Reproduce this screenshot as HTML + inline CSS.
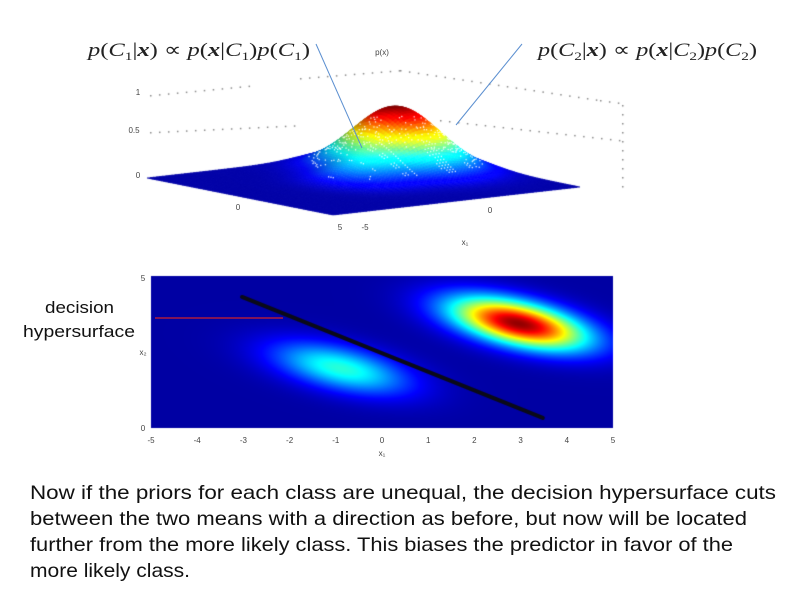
<!DOCTYPE html>
<html><head><meta charset="utf-8"><style>
html,body{margin:0;padding:0;background:#fff;width:792px;height:591px;overflow:hidden}
#wrap{position:relative;width:792px;height:591px}
canvas,svg{position:absolute;left:0;top:0}
</style></head><body>
<div id="wrap">
<canvas id="surf" width="792" height="591"></canvas>
<canvas id="heat" width="792" height="591"></canvas>
<svg id="ov" width="792" height="591">
<g font-family="Liberation Serif, serif" font-size="19" fill="#222">
<text x="88" y="56" textLength="222" lengthAdjust="spacingAndGlyphs"><tspan font-style="italic">p</tspan>(<tspan font-style="italic">C</tspan><tspan font-size="12" dy="4">1</tspan><tspan dy="-4">|</tspan><tspan font-weight="bold" font-style="italic">x</tspan>) ∝ <tspan font-style="italic">p</tspan>(<tspan font-weight="bold" font-style="italic">x</tspan>|<tspan font-style="italic">C</tspan><tspan font-size="12" dy="4">1</tspan><tspan dy="-4">)</tspan><tspan font-style="italic">p</tspan>(<tspan font-style="italic">C</tspan><tspan font-size="12" dy="4">1</tspan><tspan dy="-4">)</tspan></text>
<text x="538" y="56" textLength="219" lengthAdjust="spacingAndGlyphs"><tspan font-style="italic">p</tspan>(<tspan font-style="italic">C</tspan><tspan font-size="12" dy="4">2</tspan><tspan dy="-4">|</tspan><tspan font-weight="bold" font-style="italic">x</tspan>) ∝ <tspan font-style="italic">p</tspan>(<tspan font-weight="bold" font-style="italic">x</tspan>|<tspan font-style="italic">C</tspan><tspan font-size="12" dy="4">2</tspan><tspan dy="-4">)</tspan><tspan font-style="italic">p</tspan>(<tspan font-style="italic">C</tspan><tspan font-size="12" dy="4">2</tspan><tspan dy="-4">)</tspan></text>
</g>
<line x1="316" y1="44" x2="362" y2="148" stroke="#5b8fd0" stroke-width="1"/>
<line x1="522" y1="44" x2="456" y2="125" stroke="#5b8fd0" stroke-width="1"/>
<line x1="155" y1="318" x2="283" y2="318" stroke="#d0202a" stroke-width="1.2"/>
<g font-family="Liberation Sans, sans-serif" font-size="16.5" fill="#111">
<text x="45" y="313" textLength="69" lengthAdjust="spacingAndGlyphs">decision</text>
<text x="23" y="337" textLength="112" lengthAdjust="spacingAndGlyphs">hypersurface</text>
</g>
<g font-family="Liberation Sans, sans-serif" font-size="19.5" fill="#111">
<text x="30" y="499" textLength="746" lengthAdjust="spacingAndGlyphs">Now if the priors for each class are unequal, the decision hypersurface cuts</text>
<text x="30" y="525" textLength="717" lengthAdjust="spacingAndGlyphs">between the two means with a direction as before, but now will be located</text>
<text x="30" y="551" textLength="703" lengthAdjust="spacingAndGlyphs">further from the more likely class. This biases the predictor in favor of the</text>
<text x="30" y="577" textLength="160" lengthAdjust="spacingAndGlyphs">more likely class.</text>
</g>
<g id="ticks" font-family="Liberation Sans, sans-serif" font-size="8" fill="#444"></g>
</svg>
</div>
<script>
// ---- data ----
const classNames = ["C1","C2"];
const meanX = [-0.9, 2.95];
const meanY = [-1.05, 1.9];
const priors = [0.4, 1.0];
const xTicks = [-5,-4,-3,-2,-1,0,1,2,3,4,5];
const boundaryX = [-3.03, 3.48];
const boundaryY = [3.62, -4.34];

function jet(v){
  v=Math.max(0,Math.min(1,v));
  const f=t=>Math.max(0,Math.min(1,t));
  const r=f(1.5-Math.abs(4*v-3)), g=f(1.5-Math.abs(4*v-2)), b=f(1.5-Math.abs(4*v-1));
  return [Math.round(r*255),Math.round(g*255),Math.round(b*255)];
}
// ---- heatmap ----
const HX0=151,HX1=613,HY0=276,HY1=428;
const xs=x=>HX0+(x+5)/10*(HX1-HX0);
const ys=y=>HY0+(5-y)/10*(HY1-HY0);
const ang=0.22, sMaj=48, sMin=15;
const ca=Math.cos(ang), sa=Math.sin(ang);
function dens(px,py){
  let s=0;
  for(let k=0;k<meanX.length;k++){
    const dx=px-xs(meanX[k]), dy=py-ys(meanY[k]);
    const u=dx*ca+dy*sa, w=-dx*sa+dy*ca;
    s+=priors[k]*Math.exp(-0.5*(u*u/(sMaj*sMaj)+w*w/(sMin*sMin)));
  }
  return s;
}
const hc=document.getElementById('heat').getContext('2d');
const img=hc.createImageData(HX1-HX0,HY1-HY0);
for(let j=0;j<HY1-HY0;j++)for(let i=0;i<HX1-HX0;i++){
  const v=0.035+0.965*dens(HX0+i,HY0+j)*0.98;
  const c=jet(v); const o=(j*(HX1-HX0)+i)*4;
  img.data[o]=c[0];img.data[o+1]=c[1];img.data[o+2]=c[2];img.data[o+3]=255;
}
hc.putImageData(img,HX0,HY0);
hc.strokeStyle='#0a0a18';hc.lineWidth=4;hc.lineCap='round';
hc.beginPath();hc.moveTo(xs(boundaryX[0]),ys(boundaryY[0]));hc.lineTo(xs(boundaryX[1]),ys(boundaryY[1]));hc.stroke();
const tg=document.getElementById('ticks');
xTicks.forEach(t=>{
  const el=document.createElementNS('http://www.w3.org/2000/svg','text');
  
  
  el.setAttribute('x',xs(t));el.setAttribute('y',443);el.setAttribute('text-anchor','middle');
  el.textContent=t;tg.appendChild(el);
});
[['5',143,281],['0',143,431],['x₂',143,355],['x₁',382,456],['1',138,95],['0.5',134,133],['0',138,178],['x₁',465,245],['p(x)',382,55],['0',238,210],['5',340,230],['-5',365,230],['0',490,213]].forEach(a=>{
  const el=document.createElementNS('http://www.w3.org/2000/svg','text');
  
  
  el.setAttribute('x',a[1]);el.setAttribute('y',a[2]);el.setAttribute('text-anchor','middle');
  el.textContent=a[0];tg.appendChild(el);
});
// ---- 3D surface ----
const sc=document.getElementById('surf').getContext('2d');
const L=[147,178],B=[333,215],R=[580,187],K=[L[0]+R[0]-B[0],L[1]+R[1]-B[1]];
sc.fillStyle='#888';
function dots(x0,y0,x1,y1){const n=Math.hypot(x1-x0,y1-y0)/9;for(let i=0;i<=n;i++){sc.fillRect(x0+(x1-x0)*i/n,y0+(y1-y0)*i/n,1.5,1.5);}}
dots(150,95,255,85);dots(300,78,400,70);dots(400,70,600,100);dots(600,100,622,103);dots(622,105,622,190);
dots(150,132,300,125);dots(440,120,620,140);
const ga=[0.36,0.74], gb=[0.5,0.47];
const N=80, H=64;
function hgt(a,b){
  const d1=((a-ga[0])**2)/(0.17**2)+((b-ga[1])**2)/(0.13**2);
  const d2=((a-gb[0])**2)/(0.12**2)+((b-gb[1])**2)/(0.09**2);
  return priors[1]*Math.exp(-0.5*d1)+priors[0]*0.55*Math.exp(-0.5*d2);
}
function P(a,b,h){return [L[0]+a*(B[0]-L[0])+b*(K[0]-L[0]), L[1]+a*(B[1]-L[1])+b*(K[1]-L[1])-h*H];}
const quads=[];
for(let i=0;i<N;i++)for(let j=0;j<N;j++){
  const a0=i/N,a1=(i+1)/N,b0=j/N,b1=(j+1)/N;
  const hs=[hgt(a0,b0),hgt(a1,b0),hgt(a1,b1),hgt(a0,b1)];
  const depth=L[1]+((a0+a1)/2)*(B[1]-L[1])+((b0+b1)/2)*(K[1]-L[1]);
  quads.push({p:[P(a0,b0,hs[0]),P(a1,b0,hs[1]),P(a1,b1,hs[2]),P(a0,b1,hs[3])],h:(hs[0]+hs[1]+hs[2]+hs[3])/4,d:depth,s:(hs[0]-hs[1])});
}
quads.sort((q,r)=>q.d-r.d);
quads.forEach(q=>{
  const c=jet(0.04+0.96*q.h);
  const sh=Math.max(0.7,Math.min(1.1,1+q.s*8));
  sc.fillStyle=`rgb(${Math.round(c[0]*sh)},${Math.round(c[1]*sh)},${Math.round(Math.min(255,c[2]*sh))})`;
  sc.strokeStyle=sc.fillStyle;sc.lineWidth=0.6;
  sc.beginPath();q.p.forEach((p,k)=>k?sc.lineTo(p[0],p[1]):sc.moveTo(p[0],p[1]));sc.closePath();sc.fill();sc.stroke();
});
quads.forEach((q,k)=>{
  if(q.h>0.15&&q.h<0.8&&(k*7919)%5===0){sc.fillStyle='rgba(255,255,255,0.85)';sc.fillRect(q.p[0][0],q.p[0][1],1.3,1.3);}
});
</script>
</body></html>
